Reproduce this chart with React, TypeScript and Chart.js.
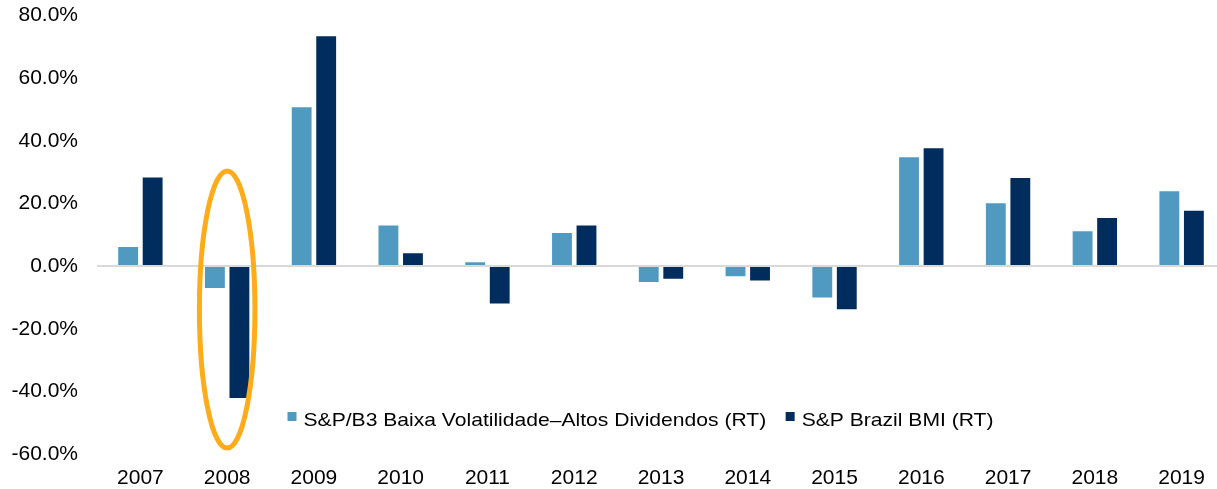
import React, { useEffect, useRef } from 'react';
import { Chart, registerables } from 'chart.js';

Chart.register(...registerables);

// ---- Data ----
const categories = ['2007', '2008', '2009', '2010', '2011', '2012', '2013', '2014', '2015', '2016', '2017', '2018', '2019'];
const lowVolHighDiv = [6.1, -7.0, 50.7, 13.0, 1.2, 10.6, -5.1, -3.2, -10.0, 34.8, 20.1, 11.1, 23.9];
const brazilBmi = [28.3, -42.1, 73.4, 4.1, -11.9, 13.0, -4.0, -4.6, -13.8, 37.6, 28.1, 15.4, 17.7];
const seriesNames = ['S&P/B3 Baixa Volatilidade\u2013Altos Dividendos (RT)', 'S&P Brazil BMI (RT)'];
const yTickValues = [-60, -40, -20, 0, 20, 40, 60, 80];
// highlighted category (ellipse), in data units
const highlightCategory = '2008';
const highlightRange = [30.4, -58.1];
const highlightHalfWidth = 0.32; // in categories

const LIGHT = '#509AC2';
const DARK = '#002C5E';
const ORANGE = '#FFAB1A';
const FONT = '"Liberation Sans", Arial, Helvetica, sans-serif';

const overlayPlugin = {
  id: 'overlay',
  afterDatasetsDraw(chart: any) {
    const { ctx, chartArea } = chart;
    const x = chart.scales.x;
    const y = chart.scales.y;
    // ellipse
    const idx = categories.indexOf(highlightCategory);
    const cx = x.getPixelForValue(idx);
    const catW = x.getPixelForValue(1) - x.getPixelForValue(0);
    const yTop = y.getPixelForValue(highlightRange[0]);
    const yBot = y.getPixelForValue(highlightRange[1]);
    ctx.save();
    ctx.beginPath();
    ctx.ellipse(cx, (yTop + yBot) / 2, catW * highlightHalfWidth, (yBot - yTop) / 2, 0, 0, Math.PI * 2);
    ctx.strokeStyle = ORANGE;
    ctx.lineWidth = 5;
    ctx.stroke();
    ctx.restore();

    // legend
    ctx.save();
    const baseline = chartArea.bottom - 28;
    const sx = 1.11;
    ctx.font = `19px ${FONT}`;
    ctx.fillStyle = '#000';
    ctx.textBaseline = 'alphabetic';
    let lx = chartArea.left + 190.5;
    const colors = [LIGHT, DARK];
    seriesNames.forEach((name, i) => {
      ctx.fillStyle = colors[i];
      ctx.fillRect(lx, baseline - 14, 9, 9);
      lx += 16;
      ctx.fillStyle = '#000';
      ctx.save();
      ctx.translate(lx, baseline);
      ctx.scale(sx, 1);
      ctx.fillText(name, 0, 0);
      ctx.restore();
      lx += ctx.measureText(name).width * sx + 19.5;
    });
    ctx.restore();
  },
};

export default function App() {
  const canvasRef = useRef<HTMLCanvasElement | null>(null);

  useEffect(() => {
    if (!canvasRef.current) return;
    const chart = new Chart(canvasRef.current, {
      type: 'bar',
      data: {
        labels: categories,
        datasets: [
          {
            label: seriesNames[0],
            data: lowVolHighDiv,
            backgroundColor: LIGHT,
            borderWidth: 0,
            categoryPercentage: 0.565,
            barPercentage: 0.81,
          },
          {
            label: seriesNames[1],
            data: brazilBmi,
            backgroundColor: DARK,
            borderWidth: 0,
            categoryPercentage: 0.565,
            barPercentage: 0.81,
          },
        ],
      },
      options: {
        animation: false,
        responsive: true,
        maintainAspectRatio: false,
        layout: { padding: { top: 0, left: 0, right: 0, bottom: 0 } },
        plugins: {
          legend: { display: false },
          tooltip: { enabled: false },
          title: { display: false },
        },
        scales: {
          x: {
            grid: { display: false, drawTicks: false },
            border: { display: false },
            ticks: {
              color: '#000',
              font: { family: FONT, size: 21 },
              padding: 12,
              maxRotation: 0,
              autoSkip: false,
            },
            afterFit: (s: any) => {
              s.height = 35;
              s.paddingLeft = 0;
              s.paddingRight = 0;
            },
          },
          y: {
            min: -60,
            max: 80,
            afterBuildTicks: (s: any) => {
              s.ticks = yTickValues.map((v) => ({ value: v }));
            },
            grid: {
              drawTicks: false,
              color: (c: any) => (c.tick && c.tick.value === 0 ? '#D9D9D9' : 'rgba(0,0,0,0)'),
              lineWidth: 2,
            },
            border: { display: false },
            ticks: {
              color: '#000',
              font: { family: FONT, size: 21 },
              padding: 19,
              callback: (v: any) => `${Number(v).toFixed(1)}%`,
            },
            afterFit: (s: any) => {
              s.width = 97;
              s.paddingTop = 15.6;
              s.paddingBottom = 0;
            },
          },
        },
      },
      plugins: [overlayPlugin],
    });
    return () => chart.destroy();
  }, []);

  return (
    <div style={{ position: 'fixed', left: 0, top: 0, width: 1217, height: 489, overflow: 'hidden', background: '#fff' }}>
      <div style={{ position: 'relative', width: 1225, height: 489 }}>
        <canvas ref={canvasRef} />
      </div>
    </div>
  );
}
